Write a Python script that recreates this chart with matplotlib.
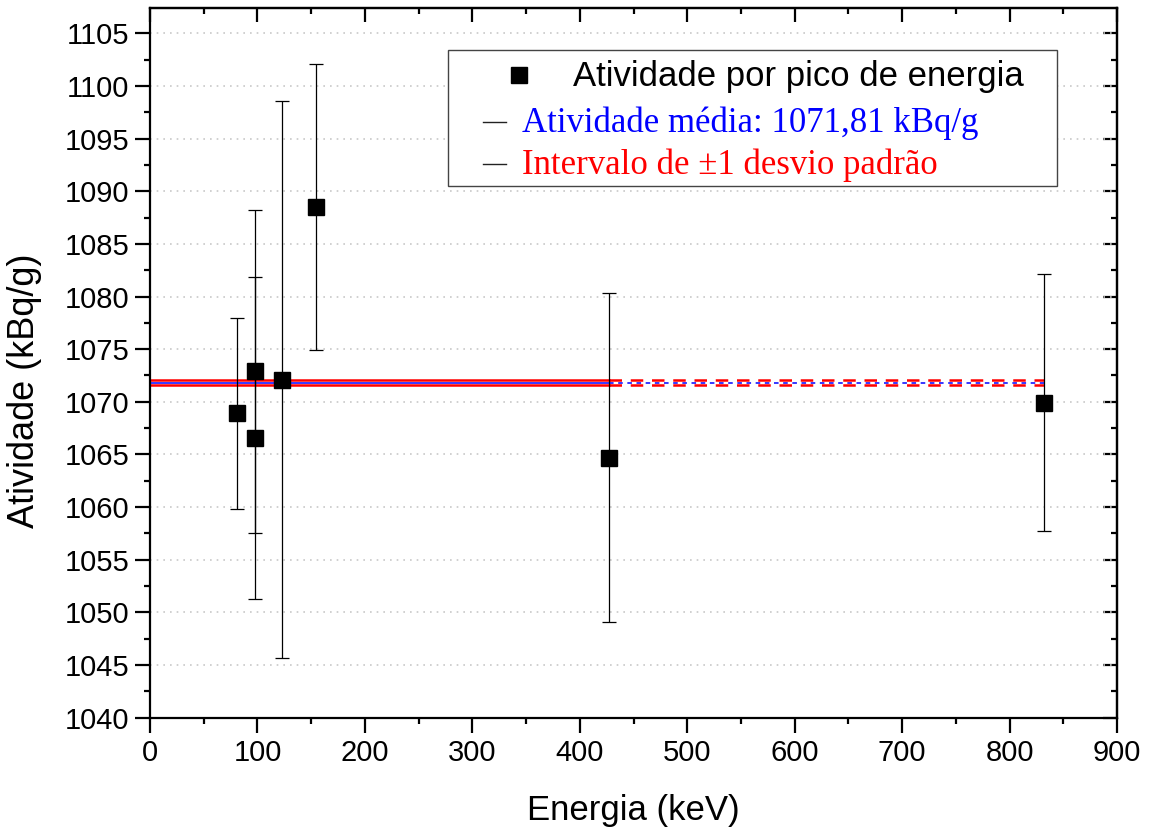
import matplotlib
matplotlib.use("Agg")
import matplotlib.pyplot as plt
from matplotlib.patches import Rectangle
from matplotlib.lines import Line2D
from matplotlib.ticker import MultipleLocator

# data
energia = [81.3, 97.7, 97.7, 122.6, 154.2, 427.3, 832.3]
atividade = [1068.9, 1072.9, 1066.6, 1072.1, 1088.5, 1064.7, 1069.9]
erro = [9.1, 15.35, 15.3, 26.45, 13.6, 15.6, 12.2]

media = 1071.81
desvio = 0.26
x_solido = [0, 427.3]
x_tracejado = [427.3, 832.3]

sans = "Liberation Sans"
serif = "Liberation Serif"

fig = plt.figure(figsize=(11.5, 8.32), dpi=100)
ax = fig.add_axes([150 / 1150, 1 - 717.7 / 832, 967 / 1150, 709.7 / 832])

# mean and +-1 sd lines
for y, cor, lw in [(media + desvio, "red", 1.8), (media - desvio, "red", 1.8), (media, "blue", 1.1)]:
    ax.plot(x_solido, [y, y], color=cor, lw=lw, zorder=2)
    ax.plot(x_tracejado, [y, y], color=cor, lw=lw, zorder=2,
            dashes=(5, 3.5) if cor == "red" else (3, 3))

ax.errorbar(energia, atividade, yerr=erro, fmt="s", color="black", ms=11.5,
            ecolor="black", elinewidth=0.9, capsize=5, capthick=0.9, zorder=3)

ax.set_xlim(0, 900)
ax.set_ylim(1040, 1107.4)
ax.xaxis.set_major_locator(MultipleLocator(100))
ax.xaxis.set_minor_locator(MultipleLocator(50))
ax.yaxis.set_major_locator(MultipleLocator(5))
ax.yaxis.set_minor_locator(MultipleLocator(2.5))
ax.yaxis.grid(True, which="major", color="#c8c8c8", linestyle=(0, (1, 3)), lw=1.2)
ax.set_axisbelow(True)

for s in ax.spines.values():
    s.set_linewidth(1.6)
ax.tick_params(which="both", width=1.6, labelsize=21, pad=4.5)
ax.tick_params(which="major", length=10.5)
ax.tick_params(which="minor", length=4.5)
ax.tick_params(axis="x", which="both", direction="out", top=False)
ax.tick_params(axis="y", which="both", direction="out", right=False)
# inward ticks on top/right, as in the original
ax2 = ax.secondary_xaxis("top")
ax2.xaxis.set_major_locator(MultipleLocator(100))
ax2.xaxis.set_minor_locator(MultipleLocator(50))
ax2.tick_params(which="both", direction="in", width=1.6, labeltop=False)
ax2.tick_params(which="major", length=10)
ax2.tick_params(which="minor", length=4.5)
ax2.spines["top"].set_linewidth(1.6)
ay2 = ax.secondary_yaxis("right")
ay2.yaxis.set_major_locator(MultipleLocator(5))
ay2.yaxis.set_minor_locator(MultipleLocator(2.5))
ay2.tick_params(which="both", direction="in", width=1.6, labelright=False)
ay2.tick_params(which="major", length=10)
ay2.tick_params(which="minor", length=4.5)
ay2.spines["right"].set_linewidth(1.6)

for lab in ax.get_xticklabels() + ax.get_yticklabels():
    lab.set_fontfamily(sans)

ax.set_xlabel("Energia (keV)", fontsize=25, family=sans, labelpad=20)
ax.set_ylabel("Atividade (kBq/g)", fontsize=26, family=sans)
ax.yaxis.set_label_coords(-0.1117, 0.46)

# legend drawn by hand (entries have different indents in the original)
W, H = 1150, 832
def fx(px):
    return px / W
def fy(py):
    return 1 - py / H

fig.patches.append(Rectangle((fx(448), fy(186)), fx(1057) - fx(448), fy(50) - fy(186),
                             transform=fig.transFigure, fill=True, facecolor="white",
                             edgecolor="#444444", lw=1.0, zorder=5))
fig.lines.append(Line2D([fx(519)], [fy(75)], marker="s", ms=11.5, color="black",
                        transform=fig.transFigure, zorder=6))
fig.text(fx(573), fy(86), "Atividade por pico de energia", fontsize=25, family=sans,
         va="baseline", ha="left", zorder=6)
for py, pline, txt, cor in [(132, 122, "Atividade média: 1071,81 kBq/g", "blue"),
                            (174, 164, "Intervalo de \u00b11 desvio padrão", "red")]:
    fig.lines.append(Line2D([fx(483), fx(506)], [fy(pline), fy(pline)], color="#222222",
                            lw=1.0, transform=fig.transFigure, zorder=6))
    fig.text(fx(522), fy(py), txt, fontsize=25, family=serif, color=cor,
             va="baseline", ha="left", zorder=6)

fig.savefig("out.png", dpi=100)
